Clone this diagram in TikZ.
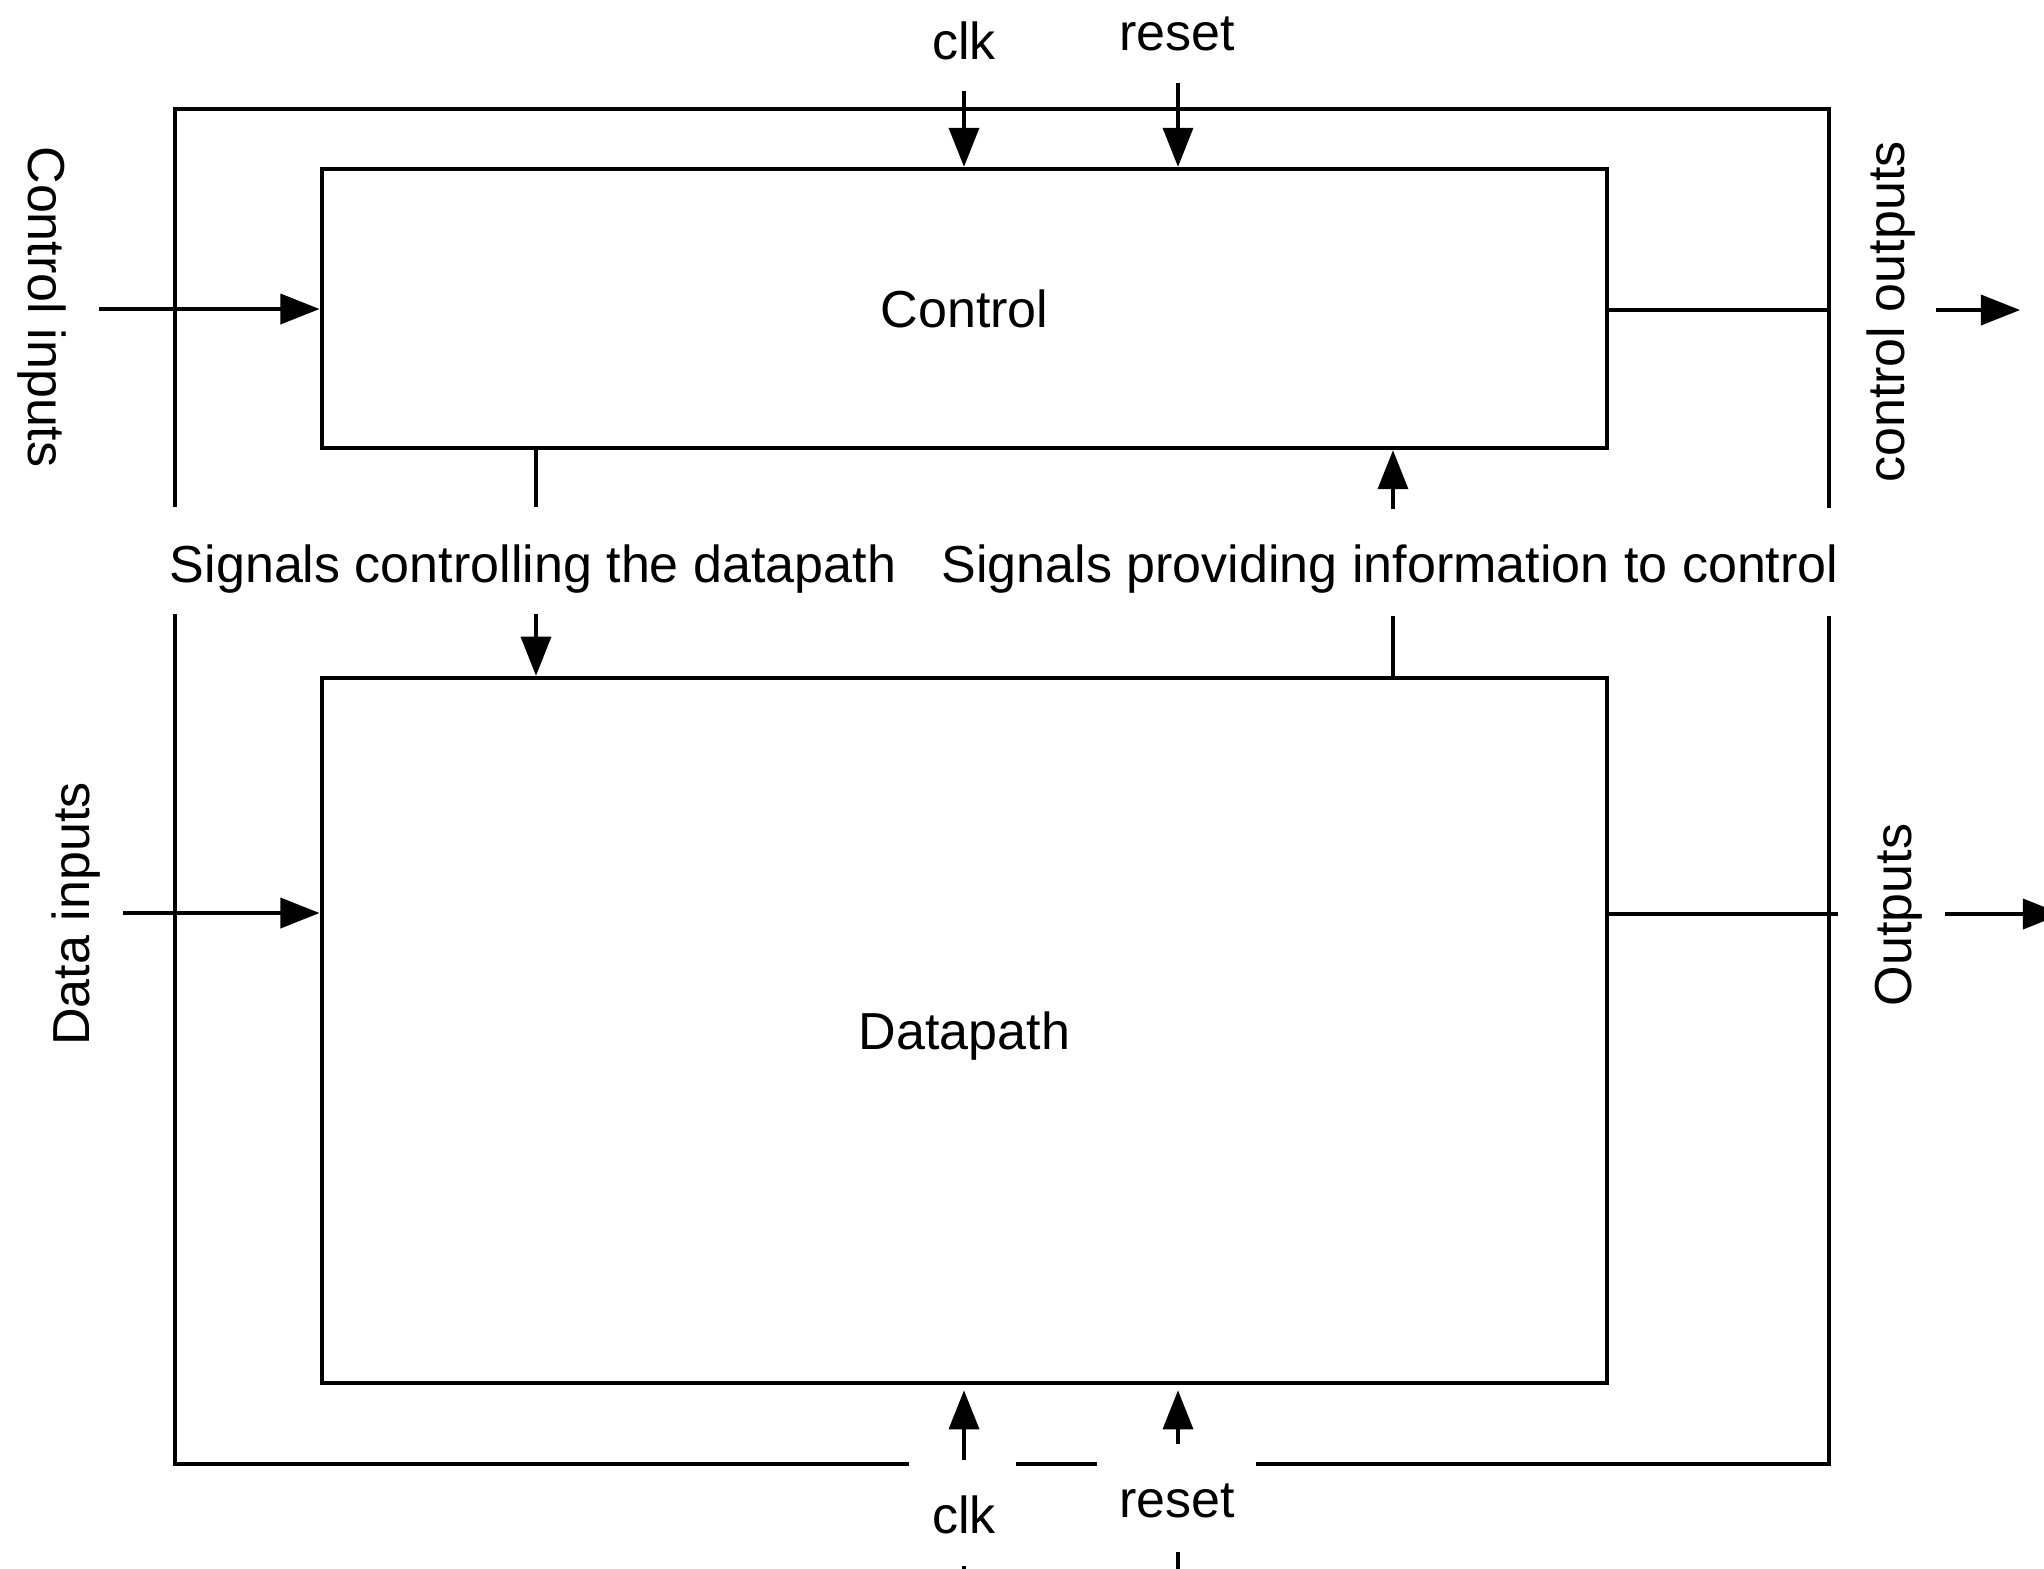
\documentclass[tikz,border=0pt]{standalone}
\usepackage{fontspec}
\setmainfont{Liberation Sans}
\usetikzlibrary{arrows.meta}

\begin{document}
\begin{tikzpicture}[x=0.01cm, y=-0.01cm, line width=1pt,
  every node/.style={font=\fontsize{14.8}{17}\selectfont, inner sep=0pt},
  blk/.style={draw, line width=1.2pt, rectangle, minimum width=12.85cm},
  sig/.style={-{Triangle[length=0.39cm, width=0.3cm]}}]
  \useasboundingbox (0,0) rectangle (2044,1568);
  % the two blocks
  \node[blk, minimum height=2.79cm] (ctrl) at (964.5,308.5) {Control};
  \node[blk, minimum height=7.05cm, text depth=0pt] (dp) at (964.5,1030.5) {Datapath};
  % outer frame, broken for the labels
  \draw (175,507) -- (175,109) -- (1829,109) -- (1829,508);
  \draw (175,614) -- (175,1464) -- (909,1464);
  \draw (1016,1464) -- (1097,1464);
  \draw (1256,1464) -- (1829,1464) -- (1829,616);
  % clk and reset
  \node[anchor=base] (clktop) at (964,59) {clk};
  \node[anchor=base] (rsttop) at (1177,50) {reset};
  \node[anchor=base] (clkbot) at (964,1533) {clk};
  \node[anchor=base] (rstbot) at (1177,1517) {reset};
  \coordinate (clkin) at (964,91);
  \coordinate (rstin) at (1178,83);
  \draw[sig] (clkin) -- (clkin |- ctrl.north);
  \draw[sig] (rstin) -- (rstin |- ctrl.north);
  \coordinate (clkup) at (964,1460);
  \coordinate (rstup) at (1178,1444);
  \draw[sig, shorten >=0.05cm] (clkup) -- (clkup |- dp.south);
  \draw[sig, shorten >=0.05cm] (rstup) -- (rstup |- dp.south);
  \coordinate (clktail) at (964,1566);
  \coordinate (rsttail) at (1178,1552);
  \draw (clktail) -- ++(0,30);
  \draw (rsttail) -- ++(0,30);
  % signals between control and datapath
  \node[anchor=base] (sigctrl) at (533,582) {Signals controlling the datapath};
  \node[anchor=base] (siginfo) at (1390,582) {Signals providing information to control};
  \coordinate (ctrlsig) at (536,507);
  \coordinate (dpsig) at (536,614);
  \draw (ctrl.south -| ctrlsig) -- (ctrlsig);
  \draw[sig] (dpsig) -- (dpsig |- dp.north);
  \coordinate (infoin) at (1393,509);
  \coordinate (infoout) at (1393,616);
  \draw[sig] (infoin) -- (infoin |- ctrl.south);
  \draw (dp.north -| infoout) -- (infoout);
  % inputs
  \node[anchor=base, rotate=-90] (ctrlinlbl) at (28,307) {Control inputs};
  \node[anchor=base, rotate=90] (datainlbl) at (90,914) {Data inputs};
  \coordinate (ctrlin) at (99,309);
  \coordinate (datain) at (123,913);
  \draw[sig] (ctrlin) -- (ctrlin -| ctrl.west);
  \draw[sig] (datain) -- (datain -| dp.west);
  % outputs
  \node[anchor=base, rotate=90] (ctrloutlbl) at (1904,312) {control outputs};
  \node[anchor=base, rotate=90] (outlbl) at (1911,915) {Outputs};
  \coordinate (ctrlout) at (1829,310);
  \coordinate (dpout) at (1838,914);
  \draw (ctrl.east |- ctrlout) -- (ctrlout);
  \draw (dp.east |- dpout) -- (dpout);
  \coordinate (ctrloutarr) at (1936,310);
  \coordinate (ctrlouttip) at (2020,310);
  \coordinate (outarr) at (1945,914);
  \coordinate (outtip) at (2062,914);
  \draw[sig] (ctrloutarr) -- (ctrlouttip);
  \draw[sig] (outarr) -- (outtip);
\end{tikzpicture}
\end{document}
